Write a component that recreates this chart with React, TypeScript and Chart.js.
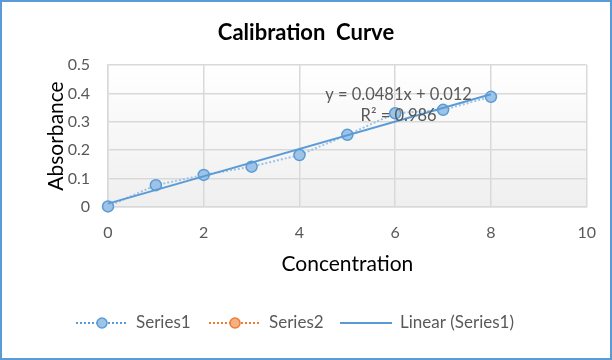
import React, { useEffect, useRef } from "react";
import { Chart, registerables } from "chart.js";

Chart.register(...registerables);

const concentration = [0, 1, 2, 3, 4, 5, 6, 7, 8];
const absorbance = [0.002, 0.077, 0.113, 0.142, 0.183, 0.254, 0.33, 0.342, 0.388];
const trendSlope = 0.0481;
const trendIntercept = 0.012;
const trendRange = [0, 8];
const equationText = "y = 0.0481x + 0.012";
const r2Text = "R² = 0.986";
const legendLabels = ["Series1", "Series2", "Linear (Series1)"];

const FONT = "Lato, 'DejaVu Sans', sans-serif";
const BLUE = "#5B9BD5";
const LIGHT = "#9DC3E6";
const ORANGE = "#ED7D31";
const GRAY_TEXT = "#595959";
const GRID = "#D9D9D9";

const framePlugin = {
  id: "frame",
  beforeDraw(chart: any) {
    const { ctx, chartArea: a } = chart;
    ctx.save();
    ctx.fillStyle = "#ffffff";
    ctx.fillRect(0, 0, chart.width, chart.height);
    const g = ctx.createLinearGradient(0, a.top, 0, a.bottom);
    g.addColorStop(0, "#ffffff");
    g.addColorStop(1, "#efefef");
    ctx.fillStyle = g;
    ctx.fillRect(a.left, a.top, a.right - a.left, a.bottom - a.top);
    ctx.restore();
  },
  afterDraw(chart: any) {
    const { ctx } = chart;
    ctx.save();
    ctx.strokeStyle = BLUE;
    ctx.lineWidth = 2;
    ctx.strokeRect(1, 1, chart.width - 2, chart.height - 2);
    ctx.restore();
  },
};

const annotationPlugin = {
  id: "annot",
  afterDatasetsDraw(chart: any) {
    const { ctx } = chart;
    const xs = chart.scales.x;
    const ys = chart.scales.y;
    ctx.save();
    ctx.fillStyle = GRAY_TEXT;
    ctx.font = `16.5px ${FONT}`;
    ctx.textAlign = "center";
    ctx.textBaseline = "middle";
    const cx = xs.getPixelForValue(6.07);
    ctx.fillText(equationText, cx, ys.getPixelForValue(0.4) + 1);
    ctx.fillText(r2Text, cx, ys.getPixelForValue(0.323));
    ctx.restore();
  },
};

const legendPlugin = {
  id: "customLegend",
  afterDraw(chart: any) {
    const { ctx } = chart;
    const y = 323;
    const items = [
      { x: 76, color: BLUE, fill: LIGHT, dotted: true, marker: true, lineColor: LIGHT },
      { x: 209, color: ORANGE, fill: "#F4B183", dotted: true, marker: true, lineColor: "#F4B183" },
      { x: 340, color: BLUE, fill: BLUE, dotted: false, marker: false, lineColor: BLUE },
    ];
    ctx.save();
    ctx.font = `17px ${FONT}`;
    ctx.textBaseline = "middle";
    ctx.textAlign = "left";
    items.forEach((it, i) => {
      ctx.beginPath();
      ctx.lineWidth = 2;
      ctx.strokeStyle = it.dotted ? it.color : it.lineColor;
      ctx.setLineDash(it.dotted ? [2, 2] : []);
      ctx.moveTo(it.x, y);
      ctx.lineTo(it.x + 52, y);
      ctx.stroke();
      ctx.setLineDash([]);
      if (it.marker) {
        ctx.beginPath();
        ctx.arc(it.x + 26, y, 5, 0, Math.PI * 2);
        ctx.fillStyle = it.fill;
        ctx.fill();
        ctx.lineWidth = 1.5;
        ctx.strokeStyle = it.color;
        ctx.stroke();
      }
      ctx.fillStyle = GRAY_TEXT;
      ctx.fillText(legendLabels[i], it.x + 60, y);
    });
    ctx.restore();
  },
};

export default function App() {
  const ref = useRef<HTMLCanvasElement>(null);
  useEffect(() => {
    if (!ref.current) return;
    const points = concentration.map((c, i) => ({ x: c, y: absorbance[i] }));
    const trend = trendRange.map((x) => ({ x, y: trendSlope * x + trendIntercept }));
    const chart = new Chart(ref.current, {
      type: "scatter",
      data: {
        datasets: [
          {
            label: legendLabels[2],
            data: trend,
            showLine: true,
            borderColor: BLUE,
            borderWidth: 2,
            pointRadius: 0,
            fill: false,
            clip: false,
          },
          {
            label: legendLabels[0],
            data: points,
            showLine: true,
            borderColor: LIGHT,
            borderDash: [2, 2],
            borderWidth: 2,
            pointRadius: 5.5,
            pointBackgroundColor: LIGHT,
            pointBorderColor: BLUE,
            pointBorderWidth: 1.5,
            clip: false,
          },
          {
            label: legendLabels[1],
            data: [],
            showLine: true,
            borderColor: ORANGE,
          },
        ],
      },
      options: {
        animation: false,
        responsive: false,
        layout: { padding: { left: 0, right: 0, top: 0, bottom: 73 } },
        plugins: {
          legend: { display: false },
          tooltip: { enabled: false },
          title: {
            display: true,
            text: "Calibration  Curve",
            color: "#000000",
            font: { family: FONT, size: 22, weight: "bold" },
            padding: { top: 20, bottom: 18.6 },
          },
        },
        scales: {
          x: {
            type: "linear",
            min: 0,
            max: 10,
            ticks: { stepSize: 2, color: GRAY_TEXT, font: { family: FONT, size: 16 }, padding: 16 },
            grid: { color: GRID, lineWidth: 1.5, drawTicks: false },
            border: { color: GRID, width: 1.5 },
            title: {
              display: true,
              text: "Concentration",
              color: "#000000",
              font: { family: FONT, size: 21 },
              padding: { top: 0, bottom: 10 },
            },
            afterFit: (s: any) => {
              s.height = 80;
            },
          },
          y: {
            min: 0,
            max: 0.5,
            ticks: {
              stepSize: 0.1,
              color: GRAY_TEXT,
              font: { family: FONT, size: 16 },
              padding: 18,
              callback: (v: any) => String(Math.round(Number(v) * 10) / 10),
            },
            grid: { color: GRID, lineWidth: 1.5, drawTicks: false },
            border: { color: GRID, width: 1.5 },
            title: {
              display: true,
              text: "Absorbance",
              color: "#000000",
              font: { family: FONT, size: 21 },
              padding: { top: 44, bottom: 0 },
            },
            afterFit: (s: any) => {
              s.width = 108;
            },
          },
          yRight: {
            position: "right",
            display: true,
            min: 0,
            max: 0.5,
            ticks: { display: false },
            grid: { display: false, drawTicks: false },
            border: { display: false },
            afterFit: (s: any) => {
              s.width = 23;
            },
          },
        },
      },
      plugins: [framePlugin, annotationPlugin, legendPlugin],
    });
    return () => chart.destroy();
  }, []);
  return (
    <div style={{ position: "absolute", left: 0, top: 0, width: 612, height: 360 }}>
      <canvas ref={ref} width={612} height={360} style={{ display: "block", width: 612, height: 360 }} />
    </div>
  );
}
